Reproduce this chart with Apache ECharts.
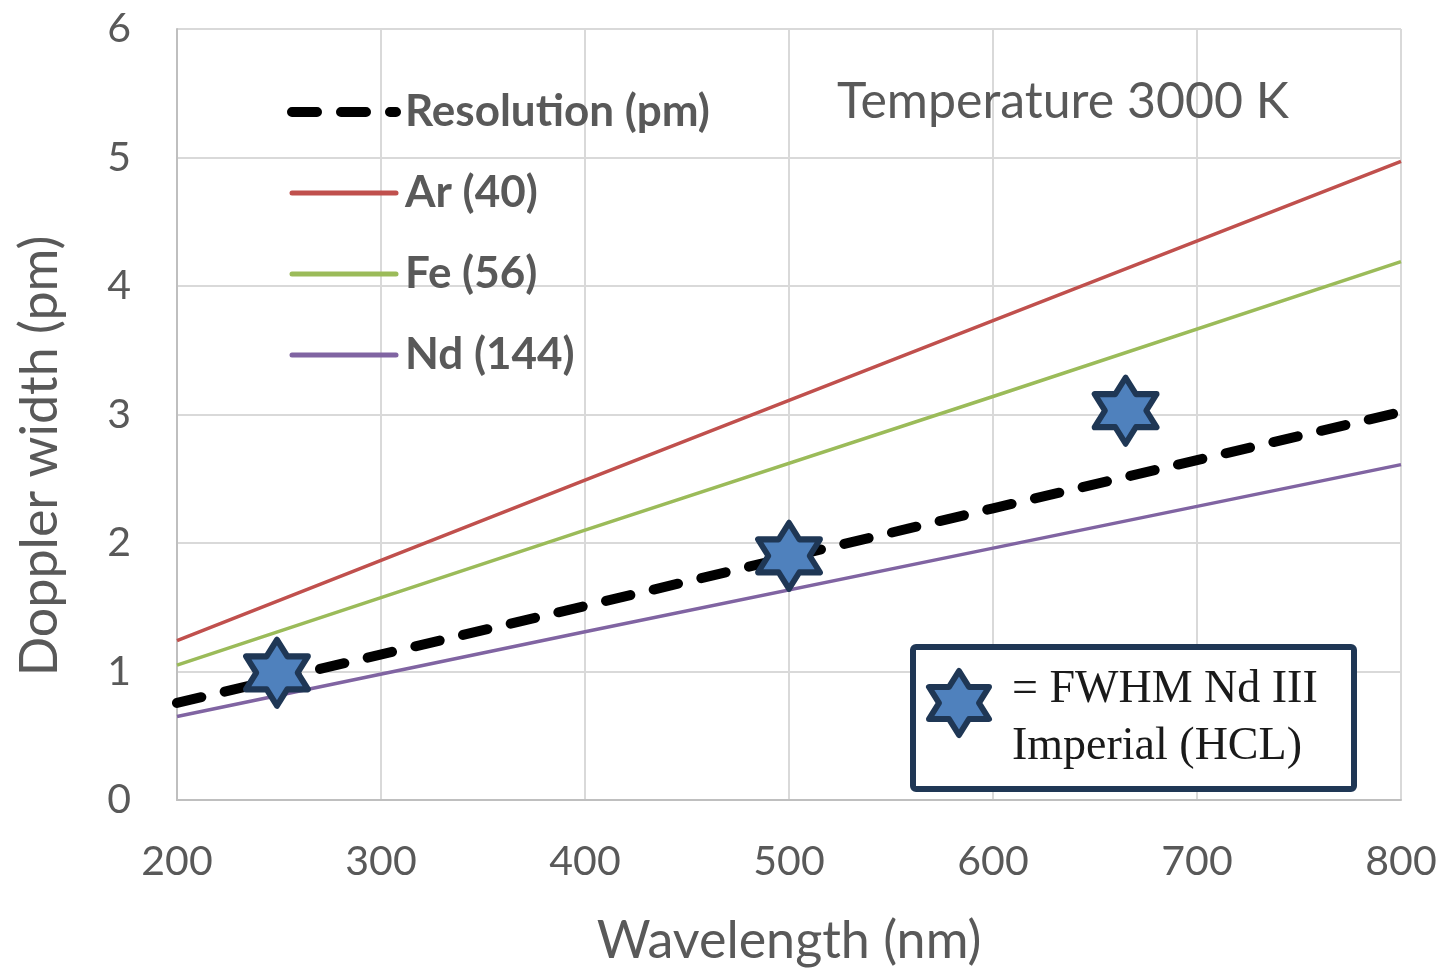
<!DOCTYPE html>
<html>
<head>
<meta charset="utf-8">
<script src="https://cdn.jsdelivr.net/npm/echarts@6/dist/echarts.min.js"></script>
<style>
  html, body { margin: 0; padding: 0; background: #fff; }
  #chart { width: 1441px; height: 969px; }
</style>
</head>
<body>
<div id="chart"></div>
<script>
// Wavelength sample points (nm)
const wavelengths = [200, 400, 600, 800];
// Doppler widths (pm) at 3000 K for each element, plus instrument resolution
const resolution = [0.755, 1.51, 2.27, 3.02];
const argon = [1.24, 2.49, 3.73, 4.97];
const iron = [1.05, 2.10, 3.14, 4.19];
const neodymium = [0.65, 1.31, 1.96, 2.61];
// Measured FWHM of Nd III lines: [wavelength nm, width pm]
const fwhmPoints = [[249, 0.99], [500, 1.9], [665, 3.03]];

const seriesNames = ['Resolution (pm)', 'Ar (40)', 'Fe (56)', 'Nd (144)'];
const xTicks = { min: 200, max: 800, interval: 100 };
const yTicks = { min: 0, max: 6, interval: 1 };

const TEXT = '#595959';
const NAVY = '#1f3755';
const STAR_FILL = '#4f81bd';
const SANS = 'Lato, "Open Sans", sans-serif';
const COLORS = ['#000000', '#c0504d', '#9bbb59', '#8064a2'];
const DASH = [25, 24];

const star = 'path://M0,-100 L28.87,-50 L86.6,-50 L57.74,0 L86.6,50 L28.87,50 L0,100 L-28.87,50 L-86.6,50 L-57.74,0 L-86.6,-50 L-28.87,-50 Z';

function pairs(ys) { return wavelengths.map((x, i) => [x, ys[i]]); }

// hexagram outline for the key inside the note box
function hexagram(cx, cy, w, h) {
  const u = [[0,-1],[0.3333,-0.5],[1,-0.5],[0.6667,0],[1,0.5],[0.3333,0.5],[0,1],[-0.3333,0.5],[-1,0.5],[-0.6667,0],[-1,-0.5],[-0.3333,-0.5]];
  return u.map(p => [cx + p[0] * w / 2, cy + p[1] * h / 2]);
}

const legendItems = seriesNames.map((name, i) => ({
  name,
  itemStyle: { color: 'rgba(0,0,0,0)', borderWidth: 0, opacity: 0 },
  lineStyle: i === 0
    ? { color: COLORS[0], width: 10, type: DASH, cap: 'round' }
    : { color: COLORS[i], width: 5, type: 'solid', cap: 'round' }
}));

const chart = echarts.init(document.getElementById('chart'));
chart.setOption({
  animation: false,
  backgroundColor: '#fff',
  grid: { left: 177, right: 40, top: 29, bottom: 169, containLabel: false, outerBoundsMode: 'none' },
  title: {
    text: 'Temperature 3000 K',
    left: 832, top: 72,
    textStyle: { fontFamily: SANS, fontWeight: 'normal', fontSize: 50, color: TEXT }
  },
  legend: {
    data: legendItems,
    orient: 'vertical',
    left: 282, top: 83,
    padding: 5,
    itemWidth: 104, itemHeight: 12,
    itemGap: 33,
    textStyle: { fontFamily: SANS, fontWeight: 'bold', fontSize: 44, color: TEXT, lineHeight: 48, padding: [0, 0, 0, 4] }
  },
  xAxis: {
    type: 'value',
    min: xTicks.min, max: xTicks.max, interval: xTicks.interval,
    name: 'Wavelength (nm)',
    nameLocation: 'middle', nameGap: 115,
    nameTextStyle: { fontFamily: SANS, fontSize: 52, color: TEXT },
    axisLine: { lineStyle: { color: '#bfbfbf', width: 2 } },
    axisTick: { show: false },
    axisLabel: { fontFamily: SANS, fontSize: 41, color: TEXT, margin: 41 },
    splitLine: { lineStyle: { color: '#d9d9d9', width: 2 } }
  },
  yAxis: {
    type: 'value',
    min: yTicks.min, max: yTicks.max, interval: yTicks.interval,
    axisLine: { show: true, lineStyle: { color: '#bfbfbf', width: 2 } },
    axisTick: { show: false },
    axisLabel: { fontFamily: SANS, fontSize: 41, color: TEXT, margin: 46 },
    splitLine: { lineStyle: { color: '#d9d9d9', width: 2 } }
  },
  graphic: [
    {
      type: 'text', rotation: Math.PI / 2,
      x: 40, y: 456,
      style: { text: 'Doppler width (pm)', fontFamily: SANS, fontSize: 52, fill: TEXT, align: 'center', verticalAlign: 'middle' }
    },
    {
      type: 'rect', z: 100,
      shape: { x: 913, y: 647, width: 441, height: 142, r: 3 },
      style: { fill: '#fff', stroke: NAVY, lineWidth: 6 }
    },
    {
      type: 'polygon', z: 101,
      shape: { points: hexagram(959, 703, 60, 64) },
      style: { fill: STAR_FILL, stroke: NAVY, lineWidth: 6, lineJoin: 'round' }
    },
    {
      type: 'text', z: 101, x: 1012, y: 661,
      style: { text: '= FWHM Nd III\nImperial (HCL)', fontFamily: '"Liberation Serif", "DejaVu Serif", serif', fontSize: 46, lineHeight: 57, fill: '#1a1a1a' }
    }
  ],
  series: [
    {
      name: seriesNames[0], type: 'line', data: pairs(resolution), z: 5,
      symbol: 'none', color: COLORS[0],
      lineStyle: { color: COLORS[0], width: 10, type: DASH, cap: 'round' }
    },
    {
      name: seriesNames[1], type: 'line', data: pairs(argon), z: 3,
      symbol: 'none', color: COLORS[1],
      lineStyle: { color: COLORS[1], width: 3.5 }
    },
    {
      name: seriesNames[2], type: 'line', data: pairs(iron), z: 3,
      symbol: 'none', color: COLORS[2],
      lineStyle: { color: COLORS[2], width: 3.5 }
    },
    {
      name: seriesNames[3], type: 'line', data: pairs(neodymium), z: 3,
      symbol: 'none', color: COLORS[3],
      lineStyle: { color: COLORS[3], width: 3.5 }
    },
    {
      name: 'FWHM Nd III', type: 'scatter', data: fwhmPoints, z: 10,
      symbol: star, symbolSize: [62, 66],
      itemStyle: { color: STAR_FILL, borderColor: NAVY, borderWidth: 6, borderJoin: 'round', opacity: 1 }
    }
  ]
});
</script>
</body>
</html>
